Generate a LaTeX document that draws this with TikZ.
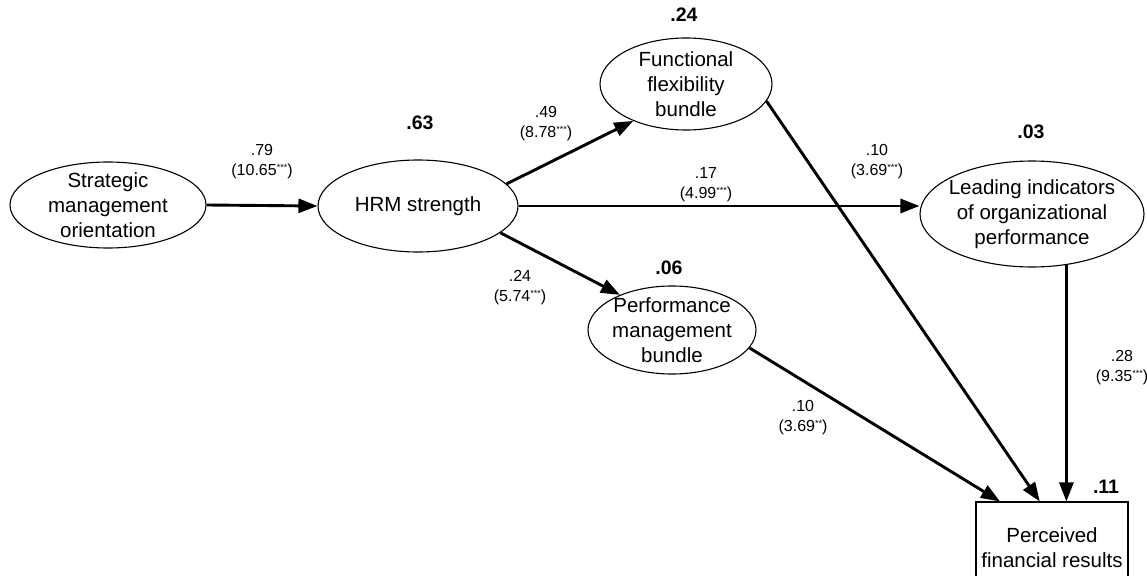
\documentclass[tikz,border=0pt]{standalone}
\usepackage{fontspec}
\setmainfont{Liberation Sans}
\usetikzlibrary{arrows.meta,calc,shapes.geometric}
\newcommand\stars[1]{\raisebox{.6ex}{\fontsize{9}{9}\selectfont #1}}
\tikzset{
 ell/.style={draw, ellipse, line width=1.1pt, inner sep=0pt},
 txt/.style={align=center, font=\fontsize{20.5}{25}\selectfont, inner sep=0pt},
 coef/.style={align=center, font=\fontsize{16}{20}\selectfont, inner sep=0pt},
 rsq/.style={font=\bfseries\fontsize{19.5}{22}\selectfont, inner sep=0pt},
 arr/.style={line width=2.9pt, -{Triangle[length=19pt,width=14pt]}},
}
\begin{document}
\begin{tikzpicture}[x=1pt,y=-1pt]
\useasboundingbox (0,0) rectangle (1147,575);
\clip (0,0) rectangle (1147,575);
% nodes
\node[ell, minimum width=196pt, minimum height=86pt] (smo) at (108,205) {};
\node[txt] (smo-t) at (smo) {Strategic\\management\\orientation};
\node[ell, minimum width=200pt, minimum height=92pt] (hrm) at (418,206) {};
\node[txt] (hrm-t) at (hrm) {HRM strength};
\node[ell, minimum width=172pt, minimum height=92pt] (ff) at (686,84) {};
\node[txt] (ff-t) at (ff) {Functional\\flexibility\\bundle};
\node[ell, minimum width=224pt, minimum height=106pt] (li) at (1032,214) {};
\node[txt] (li-t) at (li) {Leading indicators\\of organizational\\performance};
\node[ell, minimum width=168pt, minimum height=88pt] (pm) at (672,330) {};
\node[txt] (pm-t) at (pm) {Performance\\management\\bundle};
\node[draw, line width=1.1pt, minimum width=152pt, minimum height=92pt, txt] (pfr) at (1052,548) {Perceived\\financial results};
% R squared
\node[rsq] (r1) at (420,123) {.63};
\node[rsq] (r2) at (684,15) {.24};
\node[rsq] (r3) at (1031,132) {.03};
\node[rsq] (r4) at (669,268) {.06};
\node[rsq] (r5) at (1106,487) {.11};
% coefficients
\node[coef] (c1) at (262,162) {.79\\(10.65\stars{***})};
\node[coef] (c2) at (546,124) {.49\\(8.78\stars{***})};
\node[coef] (c3) at (706,185) {.17\\(4.99\stars{***})};
\node[coef] (c4) at (520,288) {.24\\(5.74\stars{***})};
\node[coef] (c5) at (877,162) {.10\\(3.69\stars{***})};
\node[coef] (c6) at (803,418) {.10\\(3.69\stars{**})};
\node[coef] (c7) at (1122,368) {.28\\(9.35\stars{***})};
% connectors
\draw[arr] (smo.east) -- (hrm.west);
\draw[arr] (hrm.14) -- (ff.215);
\draw[arr] (hrm.east) -- (hrm.east -| li.west);
\draw[arr] (hrm.-18.6) -- (pm.146);
\draw[arr] (ff.-12.8) -- ($(pfr.north west)!0.42!(pfr.north east)$);
\draw[arr] (pm.-13.7) -- ($(pfr.north west)!0.16!(pfr.north east)$);
\draw[arr] (li.-56.5) -- (li.-56.5 |- pfr.north);
\end{tikzpicture}
\end{document}
